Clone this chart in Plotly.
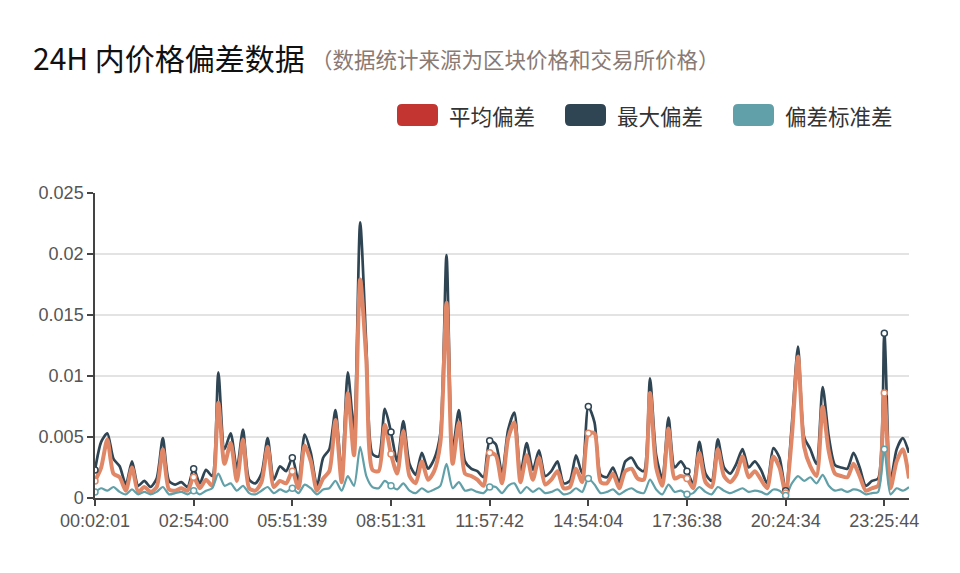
import plotly.graph_objects as go

# ---- data ----
tick_labels = ["00:02:01", "02:54:00", "05:51:39", "08:51:31", "11:57:42",
               "14:54:04", "17:36:38", "20:24:34", "23:25:44"]
tick_index = [0, 16, 32, 48, 64, 80, 96, 112, 128]

series_names = ["平均偏差", "最大偏差", "偏差标准差"]

max_dev = [
    0.0023, 0.0046, 0.0053, 0.0032, 0.0026, 0.0011, 0.0030, 0.0010, 0.0014, 0.0009,
    0.0016, 0.0049, 0.0014, 0.0011, 0.0013, 0.0009, 0.0024, 0.0012, 0.0023, 0.0018,
    0.0103, 0.0040, 0.0053, 0.0024, 0.0056, 0.0015, 0.0012, 0.0020, 0.0049, 0.0015,
    0.0026, 0.0022, 0.0033, 0.0014, 0.0052, 0.0037, 0.0010, 0.0033, 0.0040, 0.0072,
    0.0020, 0.0103, 0.0056, 0.0226, 0.0125, 0.0036, 0.0034, 0.0073, 0.0054, 0.0030,
    0.0063, 0.0028, 0.0019, 0.0037, 0.0024, 0.0032, 0.0053, 0.0199, 0.0040, 0.0072,
    0.0030, 0.0024, 0.0022, 0.0017, 0.0047, 0.0044, 0.0020, 0.0056, 0.0070, 0.0020,
    0.0045, 0.0023, 0.0039, 0.0018, 0.0022, 0.0030, 0.0012, 0.0014, 0.0035, 0.0020,
    0.0075, 0.0062, 0.0019, 0.0017, 0.0025, 0.0013, 0.0030, 0.0033, 0.0025, 0.0022,
    0.0098, 0.0035, 0.0016, 0.0066, 0.0025, 0.0030, 0.0022, 0.0012, 0.0046, 0.0020,
    0.0014, 0.0048, 0.0025, 0.0020, 0.0028, 0.0040, 0.0025, 0.0030, 0.0023, 0.0012,
    0.0041, 0.0033, 0.0006, 0.0060, 0.0124, 0.0050, 0.0040, 0.0028, 0.0091, 0.0050,
    0.0027, 0.0025, 0.0024, 0.0037, 0.0025, 0.0010, 0.0014, 0.0016, 0.0135, 0.0014,
    0.0040, 0.0049, 0.0037,
]

mean_dev = [
    0.0014, 0.0025, 0.0048, 0.0020, 0.0017, 0.0006, 0.0025, 0.0005, 0.0009, 0.0005,
    0.0009, 0.0040, 0.0007, 0.0006, 0.0008, 0.0006, 0.0017, 0.0008, 0.0015, 0.0010,
    0.0078, 0.0028, 0.0045, 0.0014, 0.0048, 0.0008, 0.0006, 0.0013, 0.0042, 0.0009,
    0.0014, 0.0012, 0.0022, 0.0008, 0.0043, 0.0030, 0.0006, 0.0016, 0.0022, 0.0064,
    0.0013, 0.0086, 0.0035, 0.0179, 0.0113, 0.0023, 0.0022, 0.0060, 0.0036, 0.0020,
    0.0055, 0.0018, 0.0012, 0.0030, 0.0015, 0.0022, 0.0045, 0.0160, 0.0028, 0.0062,
    0.0020, 0.0018, 0.0015, 0.0010, 0.0037, 0.0035, 0.0012, 0.0049, 0.0062, 0.0013,
    0.0035, 0.0015, 0.0033, 0.0011, 0.0015, 0.0022, 0.0008, 0.0009, 0.0024, 0.0013,
    0.0053, 0.0053, 0.0013, 0.0012, 0.0020, 0.0008, 0.0022, 0.0024, 0.0016, 0.0015,
    0.0086, 0.0025, 0.0010, 0.0057, 0.0016, 0.0018, 0.0016, 0.0008, 0.0037, 0.0013,
    0.0009, 0.0040, 0.0018, 0.0013, 0.0019, 0.0034, 0.0017, 0.0022, 0.0015, 0.0008,
    0.0034, 0.0025, 0.0004, 0.0050, 0.0116, 0.0042, 0.0026, 0.0018, 0.0075, 0.0038,
    0.0020, 0.0018, 0.0017, 0.0028, 0.0018, 0.0006, 0.0008, 0.0010, 0.0086, 0.0008,
    0.0030, 0.0040, 0.0016,
]

std_dev = [
    0.0005, 0.0008, 0.0006, 0.0009, 0.0005, 0.0003, 0.0007, 0.0003, 0.0005, 0.0003,
    0.0005, 0.0009, 0.0003, 0.0004, 0.0005, 0.0003, 0.0006, 0.0003, 0.0006, 0.0008,
    0.0020, 0.0010, 0.0012, 0.0006, 0.0010, 0.0004, 0.0003, 0.0006, 0.0009, 0.0004,
    0.0007, 0.0005, 0.0008, 0.0004, 0.0011, 0.0008, 0.0003, 0.0007, 0.0008, 0.0014,
    0.0006, 0.0018, 0.0010, 0.0042, 0.0018, 0.0009, 0.0008, 0.0014, 0.0010, 0.0007,
    0.0012, 0.0006, 0.0004, 0.0008, 0.0005, 0.0007, 0.0010, 0.0028, 0.0008, 0.0013,
    0.0006, 0.0007, 0.0005, 0.0004, 0.0009, 0.0009, 0.0004, 0.0010, 0.0012, 0.0004,
    0.0009, 0.0005, 0.0008, 0.0004, 0.0005, 0.0007, 0.0003, 0.0004, 0.0008, 0.0005,
    0.0016, 0.0011, 0.0004, 0.0005, 0.0007, 0.0003, 0.0006, 0.0008, 0.0005, 0.0004,
    0.0015, 0.0007, 0.0003, 0.0011, 0.0005, 0.0006, 0.0003, 0.0004, 0.0009, 0.0005,
    0.0003, 0.0009, 0.0006, 0.0004, 0.0006, 0.0008, 0.0005, 0.0006, 0.0005, 0.0003,
    0.0007, 0.0006, 0.0002, 0.0012, 0.0018, 0.0014, 0.0017, 0.0012, 0.0019, 0.0010,
    0.0006, 0.0007, 0.0005, 0.0007, 0.0006, 0.0003, 0.0004, 0.0005, 0.0040, 0.0003,
    0.0008, 0.0006, 0.0009,
]

y_ticks = [0, 0.005, 0.01, 0.015, 0.02, 0.025]
y_tick_text = ["0", "0.005", "0.01", "0.015", "0.02", "0.025"]

# ---- styling ----
# the page body has an 8px default margin, so the figure origin sits at (8, 8)
OFF = 8
W, H = 960 - 2 * OFF, 573 - 2 * OFF
plot_left, plot_right, plot_top, plot_bottom = 95, 909, 193, 498   # screen pixels
L = plot_left - OFF
R = W - (plot_right - OFF)
T = plot_top - OFF
B = H - (plot_bottom - OFF)
PW, PH = W - L - R, H - T - B

legend_colors = ["#c23531", "#2f4554", "#61a0a8"]
line_colors = ["#df8766", "#2f4554", "#61a0a8"]
line_widths = [4.0, 2.7, 2.2]

x_idx = list(range(len(max_dev)))

fig = go.Figure()

# draw order: max (bottom), mean, std (top)
order = [(1, max_dev), (0, mean_dev), (2, std_dev)]
for k, vals in order:
    fig.add_trace(go.Scatter(
        x=x_idx, y=vals, mode="lines", name=series_names[k],
        line=dict(color=line_colors[k], width=line_widths[k], shape="spline", smoothing=0.7),
        showlegend=False, hoverinfo="skip",
    ))
for k, vals in order:
    fig.add_trace(go.Scatter(
        x=tick_index, y=[vals[i] for i in tick_index], mode="markers",
        marker=dict(symbol="circle", size=6, color="white",
                    line=dict(color=line_colors[k], width=1.5)),
        showlegend=False, hoverinfo="skip",
    ))


def px(xs):
    return (xs - plot_left) / PW


def py(ys):
    return (plot_bottom - ys) / PH


shapes = []
annotations = []

# legend (ECharts style rounded rectangles)
legend_rect_x = [397, 565, 733]
legend_text_x = [447, 615, 783]
rw, rh, rr = 41, 22, 5
ry0 = 104
for k in range(3):
    x0, y0 = legend_rect_x[k], ry0
    x1, y1 = x0 + rw, y0 + rh
    path = (
        f"M {px(x0 + rr)} {py(y0)} L {px(x1 - rr)} {py(y0)} "
        f"Q {px(x1)} {py(y0)} {px(x1)} {py(y0 + rr)} "
        f"L {px(x1)} {py(y1 - rr)} Q {px(x1)} {py(y1)} {px(x1 - rr)} {py(y1)} "
        f"L {px(x0 + rr)} {py(y1)} Q {px(x0)} {py(y1)} {px(x0)} {py(y1 - rr)} "
        f"L {px(x0)} {py(y0 + rr)} Q {px(x0)} {py(y0)} {px(x0 + rr)} {py(y0)} Z"
    )
    shapes.append(dict(type="path", xref="paper", yref="paper", path=path,
                       fillcolor=legend_colors[k], line=dict(width=0)))
    annotations.append(dict(
        xref="paper", yref="paper", x=px(legend_text_x[k]), y=py(ry0 + rh / 2),
        xanchor="left", yanchor="middle", showarrow=False,
        text=series_names[k],
        font=dict(family="Noto Sans CJK SC", size=21.5, color="#333333"),
    ))

# title and subtitle
annotations.append(dict(
    xref="paper", yref="paper", x=px(31), y=py(57), xanchor="left", yanchor="middle",
    showarrow=False, text="24H 内价格偏差数据",
    font=dict(family="Noto Sans CJK SC", size=30, color="#111111"),
))
annotations.append(dict(
    xref="paper", yref="paper", x=px(309), y=py(59), xanchor="left", yanchor="middle",
    showarrow=False, text="（数据统计来源为区块价格和交易所价格）",
    font=dict(family="Noto Sans CJK SC", size=21.5, color="#8a7a73"),
))

fig.update_layout(
    width=W, height=H,
    margin=dict(l=L, r=R, t=T, b=B, pad=0),
    paper_bgcolor="white", plot_bgcolor="white",
    shapes=shapes, annotations=annotations,
    showlegend=False,
    xaxis=dict(
        range=[0, len(max_dev) - 1],
        tickmode="array", tickvals=tick_index, ticktext=tick_labels,
        showgrid=False, zeroline=False,
        showline=True, linecolor="#444444", linewidth=1.5,
        ticks="outside", ticklen=6, tickcolor="#444444", tickwidth=1.5,
        tickfont=dict(family="Liberation Sans, Arial", size=18, color="#555555"),
    ),
    yaxis=dict(
        range=[0, 0.025],
        tickmode="array", tickvals=y_ticks, ticktext=y_tick_text,
        showgrid=True, gridcolor="#e3e3e3", gridwidth=1.5, zeroline=False,
        showline=True, linecolor="#444444", linewidth=1.5,
        ticks="outside", ticklen=6, tickcolor="#444444", tickwidth=1.5,
        tickfont=dict(family="Liberation Sans, Arial", size=18, color="#555555"),
    ),
)

fig.write_html("out.html")
